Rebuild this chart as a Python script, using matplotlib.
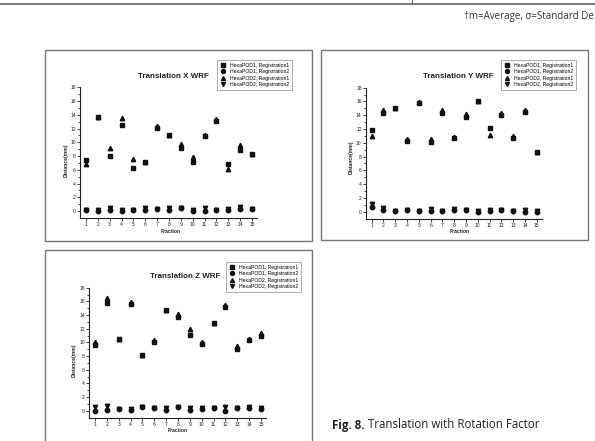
import matplotlib
matplotlib.use("Agg")
import matplotlib.pyplot as plt
from matplotlib.patches import Rectangle
from matplotlib.lines import Line2D

W, H = 595, 441

fractions = list(range(1, 16))
labels = ["HexaPOD1, Registration1", "HexaPOD1, Registration2",
          "HexaPOD2, Registration1", "HexaPOD2, Registration2"]
markers = ["s", "o", "^", "v"]

x_pod1_reg1 = [7.4, 13.6, 8.0, 12.5, 6.2, 7.1, 12.1, 11.0, 9.2, 7.1, 10.9, 13.1, 6.8, 8.9, 8.3]
x_pod1_reg2 = [0.1, 0.05, 0.2, 0.0, 0.1, 0.2, 0.3, 0.1, 0.5, 0.0, 0.0, 0.2, 0.2, 0.3, 0.3]
x_pod2_reg1 = [6.8, 13.7, 9.2, 13.5, 7.5, 7.1, 12.3, 11.1, 9.8, 7.8, 11.0, 13.4, 6.1, 9.6, 8.3]
x_pod2_reg2 = [0.1, 0.1, 0.5, 0.1, 0.15, 0.45, 0.35, 0.4, 0.5, 0.1, 0.4, 0.2, 0.3, 0.6, 0.3]

y_pod1_reg1 = [11.8, 14.4, 15.0, 10.2, 15.8, 10.1, 14.4, 10.7, 13.8, 16.0, 12.1, 14.1, 10.7, 14.5, 8.7]
y_pod1_reg2 = [0.7, 0.3, 0.05, 0.2, 0.05, 0.05, 0.05, 0.3, 0.2, 0.0, 0.1, 0.2, 0.05, 0.0, 0.0]
y_pod2_reg1 = [11.0, 14.8, 15.1, 10.5, 15.9, 10.5, 14.7, 10.8, 14.2, 16.1, 11.1, 14.4, 11.0, 14.8, 8.7]
y_pod2_reg2 = [1.1, 0.5, 0.1, 0.25, 0.1, 0.4, 0.1, 0.35, 0.3, 0.05, 0.2, 0.2, 0.1, 0.3, 0.1]

z_pod1_reg1 = [9.6, 15.8, 10.5, 15.6, 8.2, 10.1, 14.8, 13.7, 11.1, 9.7, 12.9, 15.2, 9.1, 10.4, 11.0]
z_pod1_reg2 = [0.0, 0.1, 0.25, 0.05, 0.5, 0.35, 0.1, 0.55, 0.05, 0.2, 0.4, 0.0, 0.4, 0.45, 0.2]
z_pod2_reg1 = [10.0, 16.5, 10.5, 15.9, 8.2, 10.4, 14.8, 14.2, 11.9, 10.0, 12.9, 15.5, 9.4, 10.5, 11.4]
z_pod2_reg2 = [0.6, 0.7, 0.3, 0.3, 0.5, 0.35, 0.45, 0.5, 0.45, 0.45, 0.35, 0.5, 0.35, 0.5, 0.4]

plt.rcParams["font.family"] = ["Liberation Sans", "DejaVu Sans"]

fig = plt.figure(figsize=(W / 100, H / 100), dpi=100)


def fx(x):
    return x / W


def fy(y):
    return 1 - y / H


# page bits around the figure (table rule, footnote, caption)
page_font = ["Open Sans", "DejaVu Sans"]
fig.add_artist(Line2D([0, 1], [fy(4), fy(4)], color="#666", lw=1.2))
fig.add_artist(Line2D([fx(412), fx(412)], [1, fy(4)], color="#666", lw=0.8))
fig.text(fx(594), fy(16), "\u2020m=Average, \u03c3=Standard De", fontsize=7,
         family=page_font, color="#333", va="center", ha="right")
cap = fig.text(fx(332), fy(425), "Fig. 8.", fontsize=8.3, fontweight="bold",
               family=page_font, color="#222", va="center")
renderer = fig.canvas.get_renderer()
cap_end = cap.get_window_extent(renderer).x1
fig.text((cap_end + 3) / W, fy(425), "Translation with Rotation Factor", fontsize=8.3,
         family=page_font, color="#222", va="center")

panels = [
    dict(title="Translation X WRF", box=(45, 50, 312, 241),
         ax=(80, 87.2, 256.7, 218), tpos=(173, 77), lpos=(217, 60),
         ylpos=(66, 160), xlpos=(171, 232),
         data=[x_pod1_reg1, x_pod1_reg2, x_pod2_reg1, x_pod2_reg2]),
    dict(title="Translation Y WRF", box=(321, 50, 588, 240),
         ax=(365.8, 87.7, 541.5, 218.6), tpos=(458, 77), lpos=(501, 60),
         ylpos=(351, 157), xlpos=(460, 232),
         data=[y_pod1_reg1, y_pod1_reg2, y_pod2_reg1, y_pod2_reg2]),
    dict(title="Translation Z WRF", box=(45, 250, 312, 445),
         ax=(89.1, 287.7, 265.8, 417.5), tpos=(185, 277), lpos=(226, 262),
         ylpos=(74, 360), xlpos=(178, 430),
         data=[z_pod1_reg1, z_pod1_reg2, z_pod2_reg1, z_pod2_reg2]),
]

for p in panels:
    x0, y0, x1, y1 = p["box"]
    fig.add_artist(Rectangle((fx(x0), fy(y1)), fx(x1 - x0), (y1 - y0) / H,
                             fill=False, edgecolor="#777", lw=1.0))

    l, t, r, b = p["ax"]
    ax = fig.add_axes([fx(l), fy(b), fx(r - l), (b - t) / H])
    for series, m, lab in zip(p["data"], markers, labels):
        ax.plot(fractions, series, linestyle="none", marker=m, markersize=3.2,
                color="#111", label=lab)

    ax.set_xlim(0.5, 15.4)
    ax.set_ylim(-1, 18)
    ax.set_xticks(fractions)
    ax.set_yticks(range(0, 19, 2))
    ax.set_yticks(range(1, 19, 2), minor=True)
    ax.spines["top"].set_visible(False)
    ax.spines["right"].set_visible(False)
    for s in ("left", "bottom"):
        ax.spines[s].set_linewidth(0.8)
        ax.spines[s].set_color("#222")
    ax.tick_params(which="major", direction="out", length=2, width=0.6,
                   labelsize=3.6, pad=1.0, colors="#222")
    ax.tick_params(which="minor", direction="out", length=1.2, width=0.5)
    ax.patch.set_alpha(0)

    fig.text(fx(p["tpos"][0]), fy(p["tpos"][1]), p["title"], fontsize=5.8,
             fontweight="bold", ha="center", va="center", color="#222")
    fig.text(fx(p["ylpos"][0]), fy(p["ylpos"][1]), "Distance(mm)", fontsize=3.6,
             fontweight="bold", rotation=90, ha="center", va="center", color="#222")
    fig.text(fx(p["xlpos"][0]), fy(p["xlpos"][1]), "Fraction", fontsize=3.6,
             fontweight="bold", ha="center", va="center", color="#222")

    leg = ax.legend(loc="upper left", bbox_to_anchor=(fx(p["lpos"][0]), fy(p["lpos"][1])),
                    bbox_transform=fig.transFigure, fontsize=3.7, frameon=True,
                    fancybox=False, edgecolor="#888", borderpad=0.5,
                    labelspacing=0.3, handlelength=1.2, handletextpad=0.9,
                    borderaxespad=0, markerscale=0.9)
    leg.get_frame().set_linewidth(0.6)

fig.savefig("out.png", dpi=100)
